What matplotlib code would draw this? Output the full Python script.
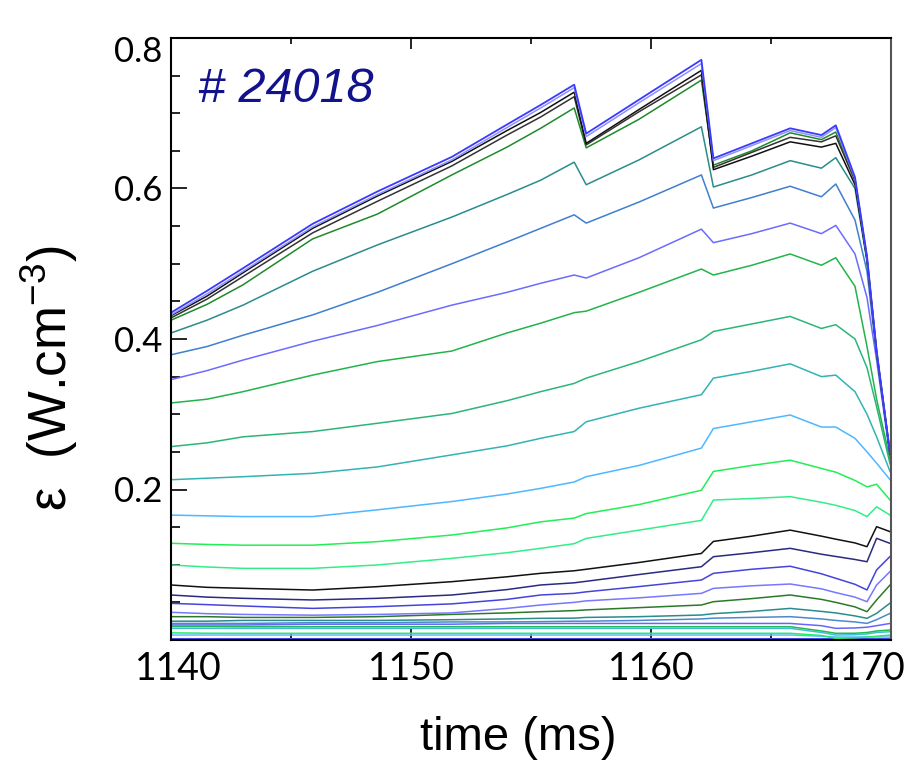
import matplotlib
matplotlib.use("Agg")
import matplotlib.pyplot as plt
from matplotlib.ticker import FixedLocator, MultipleLocator
from matplotlib.transforms import ScaledTranslation

# ---- data -----------------------------------------------------------------
time_ms = [1140, 1141.5, 1143, 1145.9, 1148.6, 1151.7, 1154, 1155.4, 1156.8,
           1157.3, 1159.5, 1162.1, 1162.6, 1164.2, 1165.8, 1167.1, 1167.7,
           1168.5, 1169.0, 1169.4, 1169.96]

ch_blue_a = [0.435, 0.464, 0.494, 0.553, 0.596, 0.642, 0.685, 0.711, 0.738, 0.673, 0.718,
             0.771, 0.640, 0.660, 0.680, 0.671, 0.684, 0.615, 0.510, 0.385, 0.248]
ch_lavender = [0.432, 0.460, 0.490, 0.549, 0.592, 0.638, 0.681, 0.707, 0.734, 0.669, 0.714,
               0.766, 0.637, 0.657, 0.677, 0.668, 0.681, 0.613, 0.508, 0.384, 0.248]
ch_black_a = [0.431, 0.457, 0.488, 0.547, 0.590, 0.636, 0.677, 0.701, 0.728, 0.660, 0.705,
              0.757, 0.625, 0.643, 0.662, 0.655, 0.660, 0.605, 0.505, 0.382, 0.247]
ch_black_b = [0.428, 0.453, 0.483, 0.541, 0.583, 0.630, 0.671, 0.695, 0.722, 0.658, 0.702,
              0.751, 0.628, 0.648, 0.668, 0.662, 0.670, 0.610, 0.507, 0.383, 0.247]
ch_dkgreen_a = [0.425, 0.446, 0.472, 0.533, 0.566, 0.618, 0.655, 0.680, 0.707, 0.654, 0.692,
                0.744, 0.631, 0.650, 0.674, 0.665, 0.675, 0.612, 0.508, 0.384, 0.249]
ch_teal_a = [0.408, 0.425, 0.445, 0.490, 0.525, 0.562, 0.592, 0.611, 0.635, 0.605, 0.638,
             0.682, 0.602, 0.618, 0.637, 0.627, 0.641, 0.600, 0.503, 0.381, 0.247]
ch_steel_a = [0.379, 0.390, 0.405, 0.432, 0.462, 0.500, 0.529, 0.547, 0.565, 0.554, 0.582,
              0.618, 0.574, 0.588, 0.603, 0.589, 0.606, 0.558, 0.490, 0.378, 0.246]
ch_peri_a = [0.346, 0.358, 0.372, 0.397, 0.418, 0.445, 0.462, 0.474, 0.485, 0.481, 0.508,
             0.546, 0.528, 0.540, 0.554, 0.540, 0.551, 0.513, 0.455, 0.372, 0.244]
ch_green_a = [0.315, 0.320, 0.330, 0.352, 0.370, 0.384, 0.408, 0.421, 0.435, 0.437, 0.462,
              0.493, 0.485, 0.498, 0.513, 0.498, 0.508, 0.470, 0.390, 0.320, 0.240]
ch_seagreen = [0.257, 0.262, 0.270, 0.277, 0.288, 0.301, 0.318, 0.330, 0.341, 0.348, 0.370,
               0.399, 0.410, 0.420, 0.430, 0.414, 0.419, 0.400, 0.362, 0.310, 0.234]
ch_cyan_a = [0.213, 0.215, 0.217, 0.2215, 0.230, 0.246, 0.258, 0.268, 0.277, 0.290, 0.308,
             0.326, 0.348, 0.357, 0.367, 0.350, 0.352, 0.330, 0.300, 0.270, 0.224]
ch_sky_a = [0.166, 0.165, 0.164, 0.164, 0.173, 0.184, 0.194, 0.2015, 0.210, 0.217, 0.232,
            0.255, 0.281, 0.290, 0.299, 0.283, 0.283, 0.268, 0.250, 0.235, 0.213]
ch_lime = [0.1285, 0.127, 0.126, 0.126, 0.1307, 0.1395, 0.149, 0.157, 0.162, 0.168, 0.180,
           0.199, 0.224, 0.232, 0.239, 0.228, 0.223, 0.212, 0.2035, 0.207, 0.186]
ch_spring_a = [0.0997, 0.097, 0.0952, 0.0952, 0.0997, 0.1085, 0.116, 0.1218, 0.128, 0.135,
               0.146, 0.159, 0.186, 0.188, 0.1905, 0.183, 0.179, 0.172, 0.164, 0.177, 0.166]
ch_black_c = [0.0731, 0.070, 0.0687, 0.0664, 0.0709, 0.0775, 0.084, 0.0886, 0.092, 0.094,
              0.103, 0.115, 0.131, 0.138, 0.146, 0.138, 0.134, 0.129, 0.124, 0.1506, 0.144]
ch_navy = [0.0598, 0.057, 0.0554, 0.0532, 0.0554, 0.0598, 0.067, 0.0731, 0.076, 0.078,
           0.087, 0.0974, 0.1107, 0.116, 0.1218, 0.114, 0.111, 0.107, 0.104, 0.1351, 0.1284]
ch_blue_b = [0.0487, 0.047, 0.0452, 0.042, 0.0443, 0.048, 0.054, 0.0598, 0.062, 0.064,
             0.071, 0.0797, 0.0886, 0.094, 0.098, 0.088, 0.082, 0.074, 0.0665, 0.0931, 0.111]
ch_peri_b = [0.0368, 0.035, 0.034, 0.033, 0.034, 0.036, 0.042, 0.0465, 0.050, 0.052,
             0.056, 0.062, 0.0686, 0.072, 0.0744, 0.068, 0.063, 0.057, 0.0509, 0.0731, 0.091]
ch_dkgreen_b = [0.031, 0.031, 0.030, 0.030, 0.031, 0.034, 0.036, 0.0376, 0.039, 0.040,
                0.043, 0.0465, 0.0509, 0.055, 0.0598, 0.054, 0.050, 0.044, 0.0376, 0.0532, 0.0731]
ch_teal_b = [0.025, 0.025, 0.026, 0.026, 0.026, 0.027, 0.028, 0.0288, 0.029, 0.030,
             0.031, 0.0332, 0.035, 0.038, 0.042, 0.038, 0.036, 0.032, 0.0288, 0.0354, 0.049]
ch_steel_b = [0.022, 0.022, 0.022, 0.023, 0.023, 0.024, 0.024, 0.0244, 0.025, 0.025,
              0.026, 0.028, 0.029, 0.030, 0.031, 0.028, 0.026, 0.024, 0.0221, 0.027, 0.0354]
ch_blue_c = [0.020, 0.020, 0.020, 0.021, 0.021, 0.021, 0.022, 0.022, 0.022, 0.022,
             0.022, 0.022, 0.022, 0.022, 0.022, 0.019, 0.0155, 0.016, 0.017, 0.019, 0.022]
ch_green_b = [0.018, 0.018, 0.0177, 0.0177, 0.0177, 0.0177, 0.0177, 0.0177, 0.0177, 0.0177,
              0.0177, 0.0177, 0.0177, 0.0177, 0.0177, 0.012, 0.0089, 0.009, 0.010, 0.012, 0.0133]
ch_cyan_b = [0.0155, 0.0155, 0.0155, 0.0155, 0.0155, 0.0155, 0.0155, 0.0155, 0.0155, 0.0155,
             0.0155, 0.0155, 0.0155, 0.0155, 0.0155, 0.010, 0.0066, 0.007, 0.008, 0.010, 0.011]
ch_spring_b = [0.0095, 0.009, 0.0089, 0.0089, 0.0089, 0.0089, 0.0089, 0.0089, 0.0089, 0.0089,
               0.0089, 0.0089, 0.0089, 0.0089, 0.0089, 0.006, 0.0022, 0.003, 0.004, 0.005, 0.0066]
ch_sky_b = [0.0066, 0.0066, 0.0066, 0.0066, 0.0066, 0.0066, 0.0066, 0.0066, 0.0066, 0.0066,
            0.0066, 0.0066, 0.0066, 0.0066, 0.0066, 0.005, 0.004, 0.004, 0.004, 0.004, 0.004]
ch_blue_base = [0.0015, 0.0015, 0.0015, 0.0015, 0.0015, 0.0015, 0.0015, 0.0015, 0.0015, 0.0015,
                0.0015, 0.0015, 0.0015, 0.0015, 0.0015, 0.0015, 0.0015, 0.0015, 0.0015, 0.0015, 0.0015]

x_ticks = [1140, 1150, 1160, 1170]
x_tick_labels = ["1140", "1150", "1160", "1170"]
y_ticks = [0.2, 0.4, 0.6, 0.8]
y_tick_labels = ["0.2", "0.4", "0.6", "0.8"]
shot_label = "# 24018"

# channels drawn from the edge inwards so the central chords sit on top
channels = [
    (ch_blue_base, "#4a4ae6", 2.2),
    (ch_sky_b, "#5cbcff", 1.1),
    (ch_spring_b, "#22ee66", 1.1),
    (ch_cyan_b, "#44bbdd", 1.1),
    (ch_green_b, "#22bb55", 1.1),
    (ch_blue_c, "#6666ff", 1.1),
    (ch_steel_b, "#4d88cc", 1.1),
    (ch_teal_b, "#2a8c8c", 1.1),
    (ch_dkgreen_b, "#2a7a2a", 1.1),
    (ch_peri_b, "#7777ff", 1.1),
    (ch_blue_b, "#4444dd", 1.1),
    (ch_navy, "#2a2a80", 1.1),
    (ch_black_c, "#111111", 1.1),
    (ch_spring_a, "#33ee88", 1.1),
    (ch_lime, "#22ee55", 1.1),
    (ch_sky_a, "#4db8ff", 1.1),
    (ch_cyan_a, "#33b3b3", 1.1),
    (ch_seagreen, "#2cb57a", 1.1),
    (ch_green_a, "#22b44a", 1.1),
    (ch_peri_a, "#6b6bff", 1.1),
    (ch_steel_a, "#3f7fd0", 1.1),
    (ch_teal_a, "#2a8c8c", 1.1),
    (ch_dkgreen_a, "#1f8a2a", 1.1),
    (ch_black_b, "#333333", 1.1),
    (ch_black_a, "#111111", 1.1),
    (ch_lavender, "#8f8fff", 1.1),
    (ch_blue_a, "#3a3aff", 1.3),
]

# ---- figure ---------------------------------------------------------------
plt.rcParams["font.family"] = ["Lato", "DejaVu Sans"]
plt.rcParams["mathtext.fontset"] = "custom"
plt.rcParams["mathtext.rm"] = "Liberation Sans"
plt.rcParams["mathtext.it"] = "Liberation Sans:italic"
plt.rcParams["mathtext.default"] = "regular"

fig = plt.figure(figsize=(9.09, 7.63), dpi=100)
ax = fig.add_axes([171 / 909, 1 - 640 / 763, 720 / 909, 602 / 763])

for vals, color, lw in channels:
    ax.plot(time_ms, vals, color=color, lw=lw, solid_joinstyle="round")

ax.set_xlim(1140, 1170)
ax.set_ylim(0, 0.8)

ax.xaxis.set_major_locator(FixedLocator(x_ticks))
ax.xaxis.set_minor_locator(MultipleLocator(5))
ax.set_xticklabels(x_tick_labels)
ax.yaxis.set_major_locator(FixedLocator(y_ticks))
ax.yaxis.set_minor_locator(MultipleLocator(0.05))
ax.set_yticklabels(y_tick_labels)

ax.tick_params(axis="x", which="both", direction="in", top=True, bottom=True, width=1.2)
ax.tick_params(axis="x", which="major", length=8, labelsize=27, pad=8)
ax.tick_params(axis="x", which="minor", length=4.5)
ax.tick_params(axis="y", which="both", direction="in", left=True, right=False, width=1.2)
ax.tick_params(axis="y", which="major", length=11.5, labelsize=25, pad=6.5)
ax.tick_params(axis="y", which="minor", length=6.5)

for side, sp in ax.spines.items():
    sp.set_linewidth(1.5)
    sp.set_color("#555555" if side == "right" else "black")

ax.set_xlabel("time (ms)", fontsize=34, family=["Liberation Sans", "DejaVu Sans"],
              va="center")
ax.xaxis.set_label_coords((518 - 171) / 720, (640 - 738) / 602)
ax.set_ylabel(r"ε  (W.cm$^{-3}$)", fontsize=38, family=["Liberation Sans", "DejaVu Sans"],
              va="center")
ax.yaxis.set_label_coords((49 - 171) / 720, (640 - 378) / 602)

ax.text((198 - 171) / 720, (640 - 102) / 602, shot_label, transform=ax.transAxes,
        fontsize=35, style="italic", family=["Liberation Sans", "DejaVu Sans"],
        color="#12128c", ha="left", va="baseline")

# nudge the end labels inward so they sit inside the frame
xt = ax.xaxis.get_major_ticks()
xt[0].label1.set_transform(xt[0].label1.get_transform()
                           + ScaledTranslation(7 / 100, 0, fig.dpi_scale_trans))
xt[-1].label1.set_transform(xt[-1].label1.get_transform()
                            + ScaledTranslation(-29 / 100, 0, fig.dpi_scale_trans))
yt = ax.yaxis.get_major_ticks()
yt[-1].label1.set_transform(yt[-1].label1.get_transform()
                            + ScaledTranslation(0, -11 / 100, fig.dpi_scale_trans))

fig.savefig("out.png", dpi=100)
